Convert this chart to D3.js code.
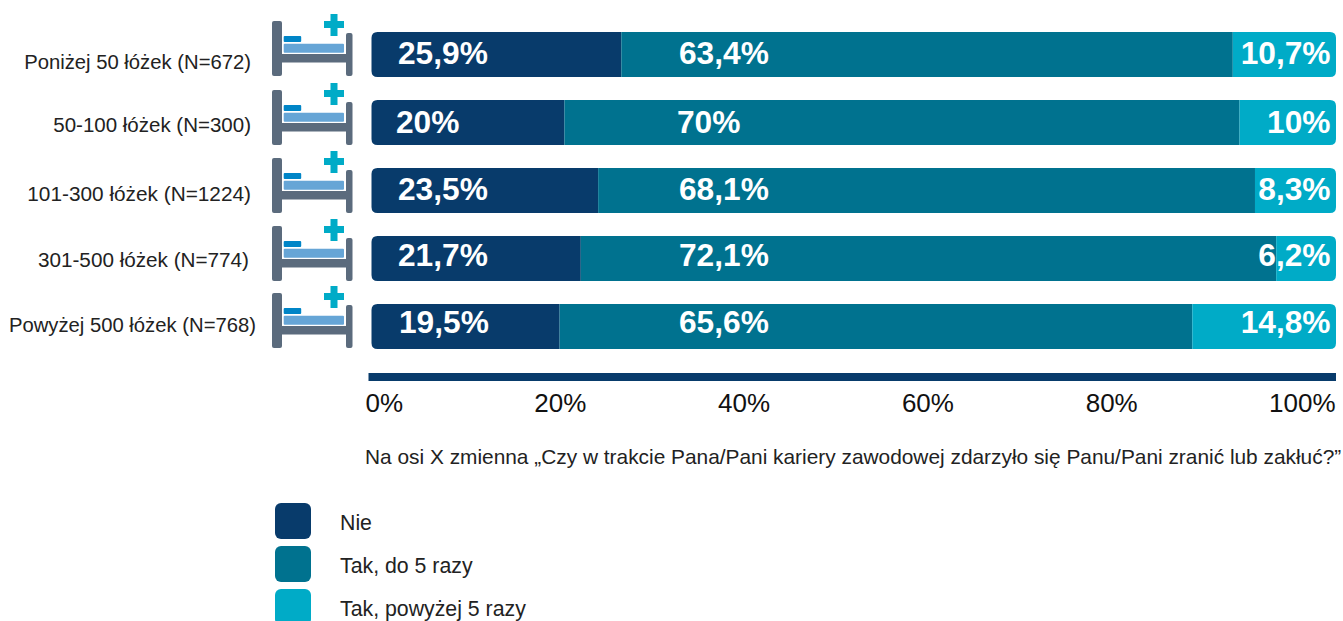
<!DOCTYPE html>
<html lang="pl">
<head>
<meta charset="utf-8">
<title>Zranienia i zakłucia</title>
<script src="https://cdn.jsdelivr.net/npm/d3@7"></script>
<style>
    html, body { margin: 0; padding: 0; background: #fff; overflow: hidden; }
    svg { display: block; }
    text { font-family: "Liberation Sans", Arial, sans-serif; }
</style>
</head>
<body>
<script>
const categories = [
    "Poniżej 50 łóżek (N=672)",
    "50-100 łóżek (N=300)",
    "101-300 łóżek (N=1224)",
    "301-500 łóżek (N=774)",
    "Powyżej 500 łóżek (N=768)"
];
const seriesNames = ["Nie", "Tak, do 5 razy", "Tak, powyżej 5 razy"];
const nie = [25.9, 20, 23.5, 21.7, 19.5];
const doPieciu = [63.4, 70, 68.1, 72.1, 65.6];
const powyzejPieciu = [10.7, 10, 8.3, 6.2, 14.8];
const nieLabels = ["25,9%", "20%", "23,5%", "21,7%", "19,5%"];
const doPieciuLabels = ["63,4%", "70%", "68,1%", "72,1%", "65,6%"];
const powyzejLabels = ["10,7%", "10%", "8,3%", "6,2%", "14,8%"];
const tickValues = [0, 20, 40, 60, 80, 100];
const axisNote = "Na osi X zmienna „Czy w trakcie Pana/Pani kariery zawodowej zdarzyło się Panu/Pani zranić lub zakłuć?”";

const colors = ["#083b6b", "#00728f", "#00abc7"];
const width = 1343, height = 621;

const catLabelEnd = [251, 251, 251, 249, 256];
const catLabelDy = [14, 9, 10, 8, 5];
const catLabelSize = [20.25, 20.5, 20.8, 20.7, 20.25];
const valueLabelDy = [0, 1, 0, -2, -3];
const nieLabelDx = [0, -2, 0, 0, 1];
const doPieciuLabelDx = [0, -2, 0, 0, 0];
const bedDy = [0, 1, 1, 1, 0];

const svg = d3.select("body").append("svg")
    .attr("width", width)
    .attr("height", height);

const xScale = d3.scaleLinear().domain([0, 100]).range([371.5, 1336]);
const yScale = d3.scaleBand()
    .domain(categories)
    .range([32, 349])
    .paddingInner(23 / 68);

// rect with only the left or right corners rounded
function barPath(x0, x1, y, h, r, side) {
    if (side === "left") {
        return `M${x1},${y}H${x0 + r}Q${x0},${y} ${x0},${y + r}V${y + h - r}Q${x0},${y + h} ${x0 + r},${y + h}H${x1}Z`;
    }
    if (side === "right") {
        return `M${x0},${y}H${x1 - r}Q${x1},${y} ${x1},${y + r}V${y + h - r}Q${x1},${y + h} ${x1 - r},${y + h}H${x0}Z`;
    }
    return `M${x0},${y}H${x1}V${y + h}H${x0}Z`;
}

// Bed icons
const bed = svg.selectAll("g.bed")
    .data(categories)
    .enter()
    .append("g")
    .attr("class", "bed")
    .attr("transform", (d, i) => "translate(0," + (yScale(d) - 32 + bedDy[i]) + ")");

bed.append("rect").attr("x", 272).attr("y", 21).attr("width", 10).attr("height", 55).attr("rx", 2).attr("fill", "#5b6b7d");
bed.append("rect").attr("x", 346).attr("y", 33).attr("width", 6.5).attr("height", 43).attr("rx", 2).attr("fill", "#5b6b7d");
bed.append("rect").attr("x", 281).attr("y", 54).attr("width", 66).attr("height", 8.5).attr("fill", "#5b6b7d");
bed.append("rect").attr("x", 283.7).attr("y", 43.7).attr("width", 60.3).attr("height", 9).attr("rx", 1).attr("fill", "#66a5d6");
bed.append("rect").attr("x", 283.7).attr("y", 36).attr("width", 17.5).attr("height", 6).attr("rx", 1).attr("fill", "#0085c7");
bed.append("rect").attr("x", 330.5).attr("y", 14).attr("width", 7).attr("height", 22).attr("fill", "#00abc7");
bed.append("rect").attr("x", 324).attr("y", 21).attr("width", 20).attr("height", 7).attr("fill", "#00abc7");

// Stacked bars
const seriesValues = [nie, doPieciu, powyzejPieciu];
const sides = ["left", "mid", "right"];

seriesValues.forEach((values, s) => {
    svg.selectAll("path.s" + s)
        .data(values)
        .enter()
        .append("path")
        .attr("class", "s" + s)
        .attr("fill", colors[s])
        .attr("d", (v, i) => {
            const start = d3.sum(seriesValues.slice(0, s), a => a[i]);
            // the three shares do not always add up to exactly 100
            const end = s === 2 ? 100 : start + v;
            return barPath(xScale(start), xScale(end), yScale(categories[i]), yScale.bandwidth(), 6, sides[s]);
        });
});

// Value labels
const valueLabels = [
    { labels: nieLabels, x: 398, anchor: "start", dx: nieLabelDx },
    { labels: doPieciuLabels, x: 679, anchor: "start", dx: doPieciuLabelDx },
    { labels: powyzejLabels, x: 1330.5, anchor: "end", dx: [0, 0, 0, 0, 0] }
];
valueLabels.forEach(col => {
    svg.selectAll(null)
        .data(col.labels)
        .enter()
        .append("text")
        .attr("x", (d, i) => col.x + col.dx[i])
        .attr("y", (d, i) => yScale(categories[i]) + 32 + valueLabelDy[i])
        .attr("text-anchor", col.anchor)
        .attr("font-size", 31.7)
        .attr("font-weight", "bold")
        .attr("fill", "#fff")
        .text(d => d);
});

// Category labels
svg.selectAll("text.cat")
    .data(categories)
    .enter()
    .append("text")
    .attr("class", "cat")
    .attr("x", (d, i) => catLabelEnd[i])
    .attr("y", (d, i) => yScale(d) + yScale.bandwidth() / 2 + catLabelDy[i])
    .attr("text-anchor", "end")
    .attr("font-size", (d, i) => catLabelSize[i])
    .attr("fill", "#222")
    .text(d => d);

// Axis: the labels do not sit under the bars' own scale in the source
const tickScale = d3.scaleLinear().domain([0, 100]).range([376, 1295]);
const xAxis = d3.axisBottom(tickScale)
    .tickValues(tickValues)
    .tickSize(0)
    .tickPadding(0)
    .tickFormat(d => d + "%");

const axisG = svg.append("g")
    .attr("transform", "translate(0,394)")
    .call(xAxis);
axisG.select(".domain").remove();
axisG.selectAll("text")
    .attr("font-size", 26)
    .attr("fill", "#111")
    .style("font-family", "'Liberation Sans', Arial, sans-serif")
    .attr("text-anchor", d => d === 0 ? "start" : d === 100 ? "end" : "middle")
    .attr("dx", d => d === 0 ? -11 : d === 100 ? 40 : 0);

svg.append("rect")
    .attr("x", 368.5)
    .attr("y", 373)
    .attr("width", 967.5)
    .attr("height", 8)
    .attr("fill", colors[0]);

svg.append("text")
    .attr("x", 365)
    .attr("y", 464)
    .attr("font-size", 20.87)
    .attr("fill", "#222")
    .text(axisNote);

// Legend
const legend = svg.selectAll("g.legend")
    .data(seriesNames)
    .enter()
    .append("g")
    .attr("class", "legend")
    .attr("transform", (d, i) => "translate(275," + (503 + i * 43) + ")");

legend.append("rect")
    .attr("width", 36)
    .attr("height", 36)
    .attr("rx", 6)
    .attr("fill", (d, i) => colors[i]);

legend.append("text")
    .attr("x", 65)
    .attr("y", 27)
    .attr("font-size", 21.3)
    .attr("fill", "#222")
    .text(d => d);
</script>
</body>
</html>
